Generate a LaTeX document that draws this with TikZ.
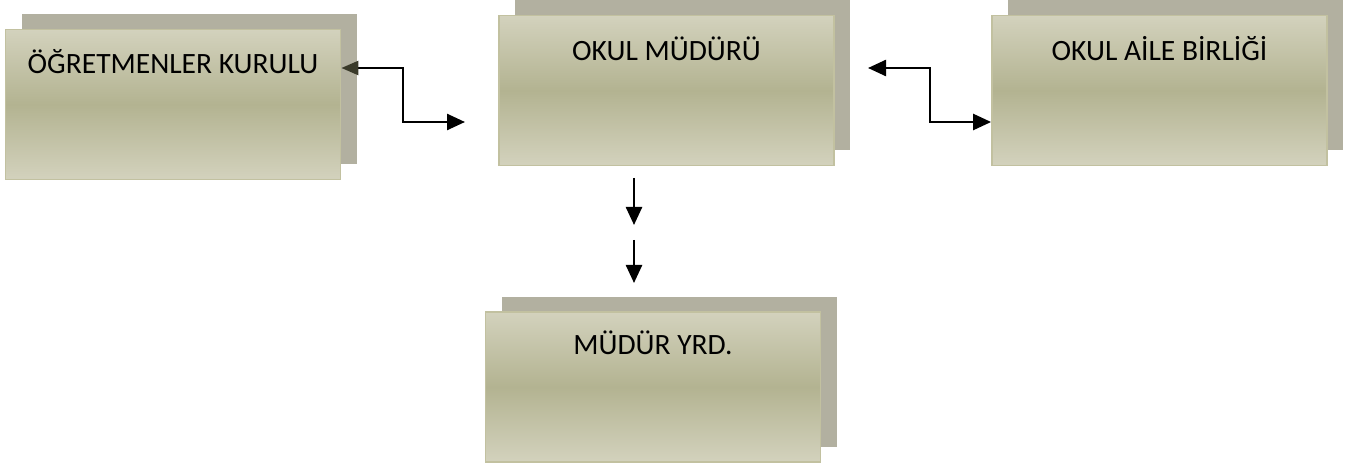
\documentclass[tikz,border=0pt]{standalone}
\usepackage{fontspec}
\setmainfont{Carlito}
\usetikzlibrary{arrows.meta,shadows}
\definecolor{boxtop}{HTML}{D3D2BD}
\definecolor{boxmid}{HTML}{B3B391}
\definecolor{boxedge}{HTML}{C2C1A0}
\definecolor{shadowc}{HTML}{B2B0A0}
\definecolor{darkhead}{HTML}{3A3A2A}
\begin{document}
\begin{tikzpicture}[x=1pt,y=-1pt,
  orgbox/.style={rectangle, inner sep=0pt, minimum width=335pt, minimum height=150pt,
    draw=boxedge, line width=1.8pt,
    top color=boxtop, bottom color=boxtop, middle color=boxmid,
    drop shadow={shadow xshift=16pt, shadow yshift=15pt, fill=shadowc, opacity=1}},
  lab/.style={anchor=base, inner sep=0pt, font=\fontsize{29.5}{34}\selectfont},
  conn/.style={line width=2.5pt, draw=black},
  tip/.tip={Triangle[length=18pt,width=16pt]}]
\useasboundingbox (0,0) rectangle (1362,470);

\node[orgbox] (tk) at (173,104.5) {};
\node[orgbox] (om) at (666.5,90.5) {};
\node[orgbox] (oa) at (1159.5,90.5) {};
\node[orgbox] (my) at (653,387) {};

\node[lab] (tkl) at ([yshift=-45pt]tk.north) {ÖĞRETMENLER KURULU};
\node[lab] (oml) at ([yshift=-46pt]om.north) {OKUL MÜDÜRÜ};
\node[lab] (oal) at ([yshift=-46pt]oa.north) {OKUL AİLE BİRLİĞİ};
\node[lab] (myl) at ([yshift=-43pt]my.north) {MÜDÜR YRD.};

% left connector
\coordinate (a1s) at (tk.east |- 0,68);
\coordinate (a1b) at (403,68);
\coordinate (a1e) at (465,122);
\draw[conn, {Triangle[length=17pt,width=14pt,color=darkhead]}-tip] (a1s) -- (a1b) |- (a1e);

% right connector
\coordinate (a2s) at (868,68);
\coordinate (a2b) at (930,68);
\coordinate (a2e) at (oa.west |- 0,122);
\draw[conn, tip-tip] (a2s) -- (a2b) |- (a2e);

% down arrows
\coordinate (d1s) at (634,178);
\coordinate (d1e) at (634,225);
\coordinate (d2s) at (634,240);
\coordinate (d2e) at (634,283);
\draw[conn, -tip] (d1s) -- (d1e);
\draw[conn, -tip] (d2s) -- (d2e);
\end{tikzpicture}
\end{document}
